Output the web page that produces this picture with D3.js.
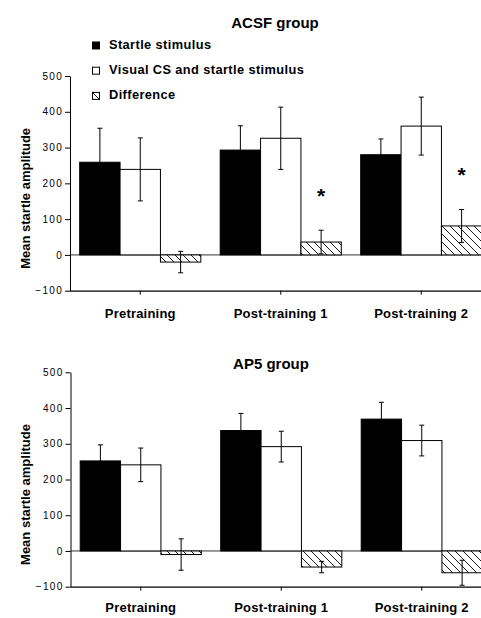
<!DOCTYPE html>
<html>
<head>
<meta charset="utf-8">
<script src="https://cdn.jsdelivr.net/npm/d3@7"></script>
<style>
  html, body { margin: 0; padding: 0; background: #fff; }
  svg { display: block; font-family: "Liberation Sans", Arial, Helvetica, sans-serif; }
</style>
</head>
<body>
<svg id="chart" width="481" height="618"></svg>
<script>
// ---- Data ----
const categories = ["Pretraining", "Post-training 1", "Post-training 2"];
const seriesNames = ["Startle stimulus", "Visual CS and startle stimulus", "Difference"];
const yTicks = [-100, 0, 100, 200, 300, 400, 500];

// ACSF group
const acsfStartle = [259, 293, 280];
const acsfStartleErr = [95, 68, 44];
const acsfVisual = [239, 326, 360];
const acsfVisualErr = [88, 87, 81];
const acsfDiff = [-20, 36, 81];
const acsfDiffErr = [30, 33, 46];
const acsfSig = [false, true, true];

// AP5 group
const ap5Startle = [252, 337, 369];
const ap5StartleErr = [45, 48, 47];
const ap5Visual = [241, 292, 309];
const ap5VisualErr = [47, 43, 43];
const ap5Diff = [-10, -45, -61];
const ap5DiffErr = [44, 16, 35];
const ap5Sig = [false, false, false];

const panels = [
  { title: "ACSF group", values: [acsfStartle, acsfVisual, acsfDiff],
    errs: [acsfStartleErr, acsfVisualErr, acsfDiffErr], sig: acsfSig,
    top: 76, bottom: 290.7, titleX: 275, titleY: 27.5, axisX: 70, labelPad: 14.5, legend: true },
  { title: "AP5 group", values: [ap5Startle, ap5Visual, ap5Diff],
    errs: [ap5StartleErr, ap5VisualErr, ap5DiffErr], sig: ap5Sig,
    top: 372.3, bottom: 586.7, titleX: 271, titleY: 368.5, axisX: 70.5, labelPad: 12.5, legend: false }
];

const svg = d3.select("#chart");
const W = 481;

// hatch pattern
const defs = svg.append("defs");
const pat = defs.append("pattern")
  .attr("id", "hatch").attr("patternUnits", "userSpaceOnUse")
  .attr("width", 8).attr("height", 8);
pat.append("rect").attr("width", 8).attr("height", 8).attr("fill", "#fff");
pat.append("path")
  .attr("d", "M0,0 L8,8 M-2,6 L2,10 M6,-2 L10,2")
  .attr("stroke", "#000").attr("stroke-width", 0.9);

const fills = ["#000", "#fff", "url(#hatch)"];

panels.forEach(p => {
  const g = svg.append("g");
  const y = d3.scaleLinear().domain([-100, 500]).range([p.bottom, p.top]);
  const x = d3.scaleBand().domain(categories).range([p.axisX, p.axisX + 421.5]).padding(0);
  const groupW = x.bandwidth() * 0.862;
  const xs = d3.scaleBand().domain(seriesNames).range([0, groupW]).padding(0);

  // title
  g.append("text").attr("x", p.titleX).attr("y", p.titleY)
    .attr("text-anchor", "middle").attr("font-weight", "bold").attr("font-size", 15)
    .text(p.title);

  // y axis title
  g.append("text")
    .attr("transform", `translate(30,${(p.top + p.bottom) / 2 + 15}) rotate(-90)`)
    .attr("text-anchor", "middle").attr("font-weight", "bold").attr("font-size", 13)
    .text("Mean startle amplitude");

  // zero line
  g.append("line")
    .attr("x1", p.axisX).attr("x2", W)
    .attr("y1", y(0)).attr("y2", y(0))
    .attr("stroke", "#333").attr("stroke-width", 1);

  // bars
  seriesNames.forEach((s, si) => {
    const bars = g.append("g");
    categories.forEach((c, ci) => {
      const v = p.values[si][ci];
      const bx = x(c) + (x.bandwidth() - groupW) / 2 + xs(s);
      bars.append("rect")
        .attr("x", bx).attr("width", xs.bandwidth())
        .attr("y", y(Math.max(0, v)))
        .attr("height", Math.abs(y(v) - y(0)))
        .attr("fill", fills[si]).attr("stroke", "#000").attr("stroke-width", 1);
    });
  });

  // error bars
  seriesNames.forEach((s, si) => {
    categories.forEach((c, ci) => {
      const v = p.values[si][ci], e = p.errs[si][ci];
      const cx = x(c) + (x.bandwidth() - groupW) / 2 + xs(s) + xs.bandwidth() / 2;
      const eg = g.append("g").attr("stroke", "#000").attr("stroke-width", 1);
      eg.append("line").attr("x1", cx).attr("x2", cx).attr("y1", y(v + e)).attr("y2", y(v - e));
      eg.append("line").attr("x1", cx - 2.5).attr("x2", cx + 2.5).attr("y1", y(v + e)).attr("y2", y(v + e));
      eg.append("line").attr("x1", cx - 2.5).attr("x2", cx + 2.5).attr("y1", y(v - e)).attr("y2", y(v - e));
      if (si === 2 && p.sig[ci]) {
        g.append("text").attr("x", cx).attr("y", y(v + e) - 27)
          .attr("text-anchor", "middle").attr("font-weight", "bold").attr("font-size", 21)
          .text("*");
      }
    });
  });

  // y axis
  const ya = g.append("g").attr("transform", `translate(${p.axisX},0)`)
    .call(d3.axisLeft(y).tickValues(yTicks).tickSize(5).tickSizeOuter(0).tickPadding(2));
  ya.select(".domain").attr("stroke", "#000");
  ya.selectAll("text").attr("font-size", 10).attr("font-family", "Liberation Sans, Arial, sans-serif")
    .attr("letter-spacing", "1.3px").attr("fill", "#000");

  // x axis
  const xa = g.append("g").attr("transform", `translate(0,${p.bottom})`)
    .call(d3.axisBottom(x).tickSize(4).tickSizeOuter(0).tickPadding(p.labelPad));
  xa.select(".domain").attr("d", `M${p.axisX},0.5H${W}`).attr("stroke", "#000").attr("stroke-width", 1.2);
  xa.selectAll("text").attr("font-size", 13).attr("font-weight", "bold")
    .attr("letter-spacing", "0.2px")
    .attr("font-family", "Liberation Sans, Arial, sans-serif").attr("fill", "#000");

  // legend
  if (p.legend) {
    const lg = g.append("g");
    seriesNames.forEach((s, i) => {
      const ly = 49 + i * 25.2;
      lg.append("rect").attr("x", 92.5).attr("y", ly - 7).attr("width", 7).attr("height", 7)
        .attr("fill", fills[i]).attr("stroke", "#000").attr("stroke-width", 1);
      lg.append("text").attr("x", 109).attr("y", ly)
        .attr("font-weight", "bold").attr("font-size", 12.8).attr("letter-spacing", "0.4px").text(s);
    });
  }
});
</script>
</body>
</html>
